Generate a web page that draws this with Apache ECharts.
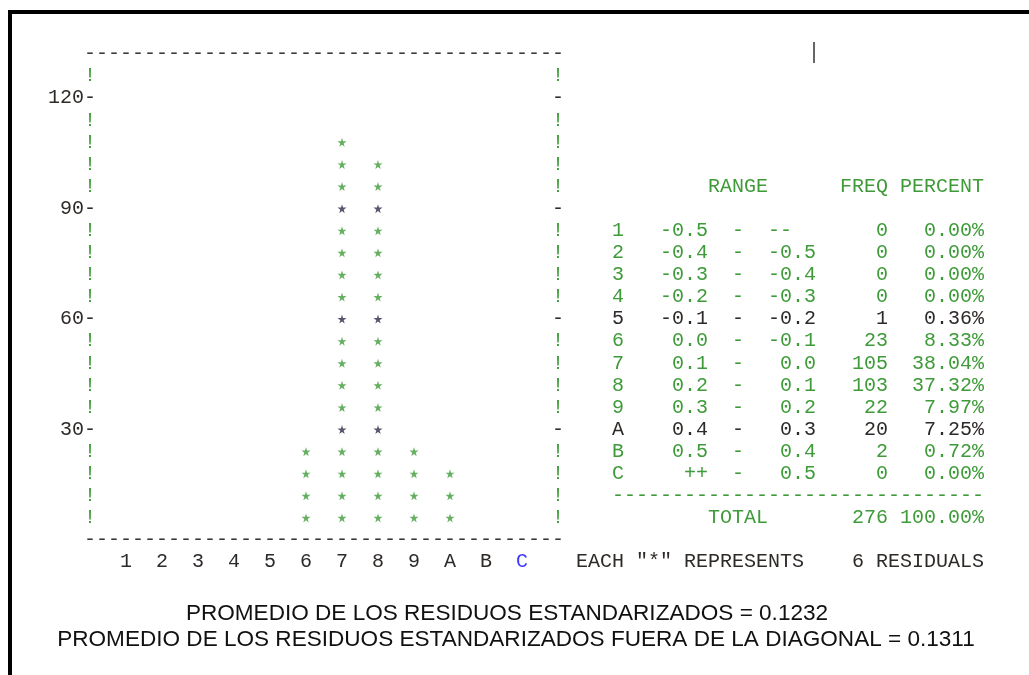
<!DOCTYPE html>
<html>
<head>
<meta charset="utf-8">
<script src="https://cdn.jsdelivr.net/npm/echarts@6/dist/echarts.min.js"></script>
<style>
  html, body { margin: 0; padding: 0; background: #fff; }
  #chart { width: 1029px; height: 675px; }
</style>
</head>
<body>
<div id="chart"></div>
<script>
// Histogram classes of the standardized residuals
const categories = ['1', '2', '3', '4', '5', '6', '7', '8', '9', 'A', 'B', 'C'];
const rangeLow  = ['-0.5', '-0.4', '-0.3', '-0.2', '-0.1', '0.0', '0.1', '0.2', '0.3', '0.4', '0.5', '++'];
const rangeHigh = ['--', '-0.5', '-0.4', '-0.3', '-0.2', '-0.1', '0.0', '0.1', '0.2', '0.3', '0.4', '0.5'];
const freq      = [0, 0, 0, 0, 1, 23, 105, 103, 22, 20, 2, 0];
const percent   = ['0.00%', '0.00%', '0.00%', '0.00%', '0.36%', '8.33%', '38.04%', '37.32%', '7.97%', '7.25%', '0.72%', '0.00%'];
const totalFreq = 276;
const totalPercent = '100.00%';
const residualsPerStar = 6;
const yTickLabels = [30, 60, 90, 120];
const yMax = 132;
const blueLabel = 'C';
const summaryLines = [
  'PROMEDIO DE LOS RESIDUOS ESTANDARIZADOS = 0.1232',
  'PROMEDIO DE LOS RESIDUOS ESTANDARIZADOS FUERA DE LA DIAGONAL = 0.1311'
];

// ---- styling ----
const MONO = '"Liberation Mono", "Courier New", monospace';
const FS = 20;          // monospace size, 12px character pitch
const CW = 12;
const GREEN = '#3f9b3a';
const DARK = '#2e2a28';
const STAR_DARK = '#2c2c48';
const BLUE = '#3a3aff';
const DASH_COLOR = '#3a3a3a';

// one star per six residuals, stacked in the class column
const stars = [];
categories.forEach((c, i) => {
  const n = Math.round(freq[i] / residualsPerStar);
  for (let k = 1; k <= n; k++) stars.push([i + 1, k * residualsPerStar]);
});

const STAR_PATH = 'path://M50,0 L61,35 L98,35 L68,57 L79,91 L50,70 L21,91 L32,57 L2,35 L39,35 Z';
const monoRich = {
  d: { color: DARK, fontFamily: MONO, fontSize: FS },
  g: { color: GREEN, fontFamily: MONO, fontSize: FS },
  b: { color: BLUE, fontFamily: MONO, fontSize: FS }
};
const rowLabel = (v, mark) => {
  if (v <= 0 || v >= yMax) return '';
  return yTickLabels.includes(v) ? '{d|' + mark(v) + '}' : '{g|!}';
};

const chart = echarts.init(document.getElementById('chart'), null, { renderer: 'canvas' });

chart.setOption({
  animation: false,
  backgroundColor: '#fff',
  grid: { left: 90, top: 54, width: 468, height: 486, containLabel: false },
  xAxis: {
    type: 'value', min: 0, max: 13, interval: 1,
    axisLine: { show: false }, axisTick: { show: false }, splitLine: { show: false },
    axisLabel: {
      margin: 22, verticalAlign: 'middle', rich: monoRich,
      formatter: v => {
        if (v < 1 || v > categories.length) return '';
        const c = categories[v - 1];
        return (c === blueLabel ? '{b|' : '{d|') + c + '}';
      }
    }
  },
  yAxis: [
    {
      type: 'value', min: 0, max: yMax, interval: residualsPerStar, position: 'left',
      axisLine: { show: false }, axisTick: { show: false }, splitLine: { show: false },
      axisLabel: { margin: -6, align: 'right', rich: monoRich, formatter: v => rowLabel(v, x => x + '-') }
    },
    {
      type: 'value', min: 0, max: yMax, interval: residualsPerStar, position: 'right',
      axisLine: { show: false }, axisTick: { show: false }, splitLine: { show: false },
      axisLabel: { margin: 0, align: 'center', rich: monoRich, formatter: v => rowLabel(v, () => '-') }
    }
  ],
  series: [{
    type: 'scatter',
    data: stars,
    symbol: STAR_PATH,
    symbolSize: 9,
    itemStyle: {
      color: p => yTickLabels.includes(p.value[1]) ? STAR_DARK : GREEN
    },
    silent: true
  }]
});

// ---- text rows aligned to the plot's row grid ----
const px = (x, y) => chart.convertToPixel({ gridIndex: 0 }, [x, y]);
const yOf = v => px(0, v)[1];
const colLeft = c => px(c / 3, 0)[0] - CW / 2;   // 3 characters per class column

const monoText = (text, col, rowValue, color) => ({
  type: 'text',
  silent: true,
  style: {
    text, x: colLeft(col), y: yOf(rowValue),
    fontFamily: MONO, fontSize: FS, fill: color,
    align: 'left', verticalAlign: 'middle'
  }
});

const graphics = [];
// frame dashes above and below the histogram
graphics.push(monoText('-'.repeat(40), 0, yMax, DASH_COLOR));
graphics.push(monoText('-'.repeat(40), 0, 0, DASH_COLOR));

// frequency table
const TCOL = 44;
graphics.push(monoText(' '.repeat(8) + 'RANGE' + ' '.repeat(6) + 'FREQ PERCENT', TCOL, 96, GREEN));
categories.forEach((c, i) => {
  const rowV = 84 - i * residualsPerStar;
  const hi = rangeHigh[i] === '--' ? rangeHigh[i].padEnd(4) : rangeHigh[i].padStart(4);
  const line = c + '   ' + rangeLow[i].padStart(4) + '  -  ' + hi +
    String(freq[i]).padStart(6) + ' ' + percent[i].padStart(7);
  graphics.push(monoText(line, TCOL, rowV, yTickLabels.includes(rowV) ? DARK : GREEN));
});
graphics.push(monoText('-'.repeat(31), TCOL, 12, GREEN));
graphics.push(monoText(' '.repeat(8) + 'TOTAL' + String(totalFreq).padStart(10) + ' ' + totalPercent, TCOL, 6, GREEN));
graphics.push(monoText('EACH "*" REPRESENTS    ' + residualsPerStar + ' RESIDUALS', 41, -6, DARK));

// summary lines below the histogram
const SANS = '"Liberation Sans", Arial, sans-serif';
const measure = document.createElement('canvas').getContext('2d');
measure.font = '20px ' + SANS;
const summaryFs = 20 * 918 / measure.measureText(summaryLines[1]).width;
graphics.push({
  type: 'text', silent: true,
  style: { text: summaryLines[0], x: 507, y: 614, fontFamily: SANS, fontSize: summaryFs, fill: '#111', align: 'center', verticalAlign: 'middle' }
});
graphics.push({
  type: 'text', silent: true,
  style: { text: summaryLines[1], x: 516, y: 640, fontFamily: SANS, fontSize: summaryFs, fill: '#111', align: 'center', verticalAlign: 'middle' }
});

// page frame and caret
graphics.push({ type: 'rect', silent: true, shape: { x: 8, y: 10, width: 1021, height: 4 }, style: { fill: '#000' } });
graphics.push({ type: 'rect', silent: true, shape: { x: 8, y: 10, width: 4, height: 665 }, style: { fill: '#000' } });
graphics.push({ type: 'rect', silent: true, shape: { x: 813, y: 42, width: 2, height: 21 }, style: { fill: '#666' } });

chart.setOption({ graphic: graphics });
</script>
</body>
</html>
